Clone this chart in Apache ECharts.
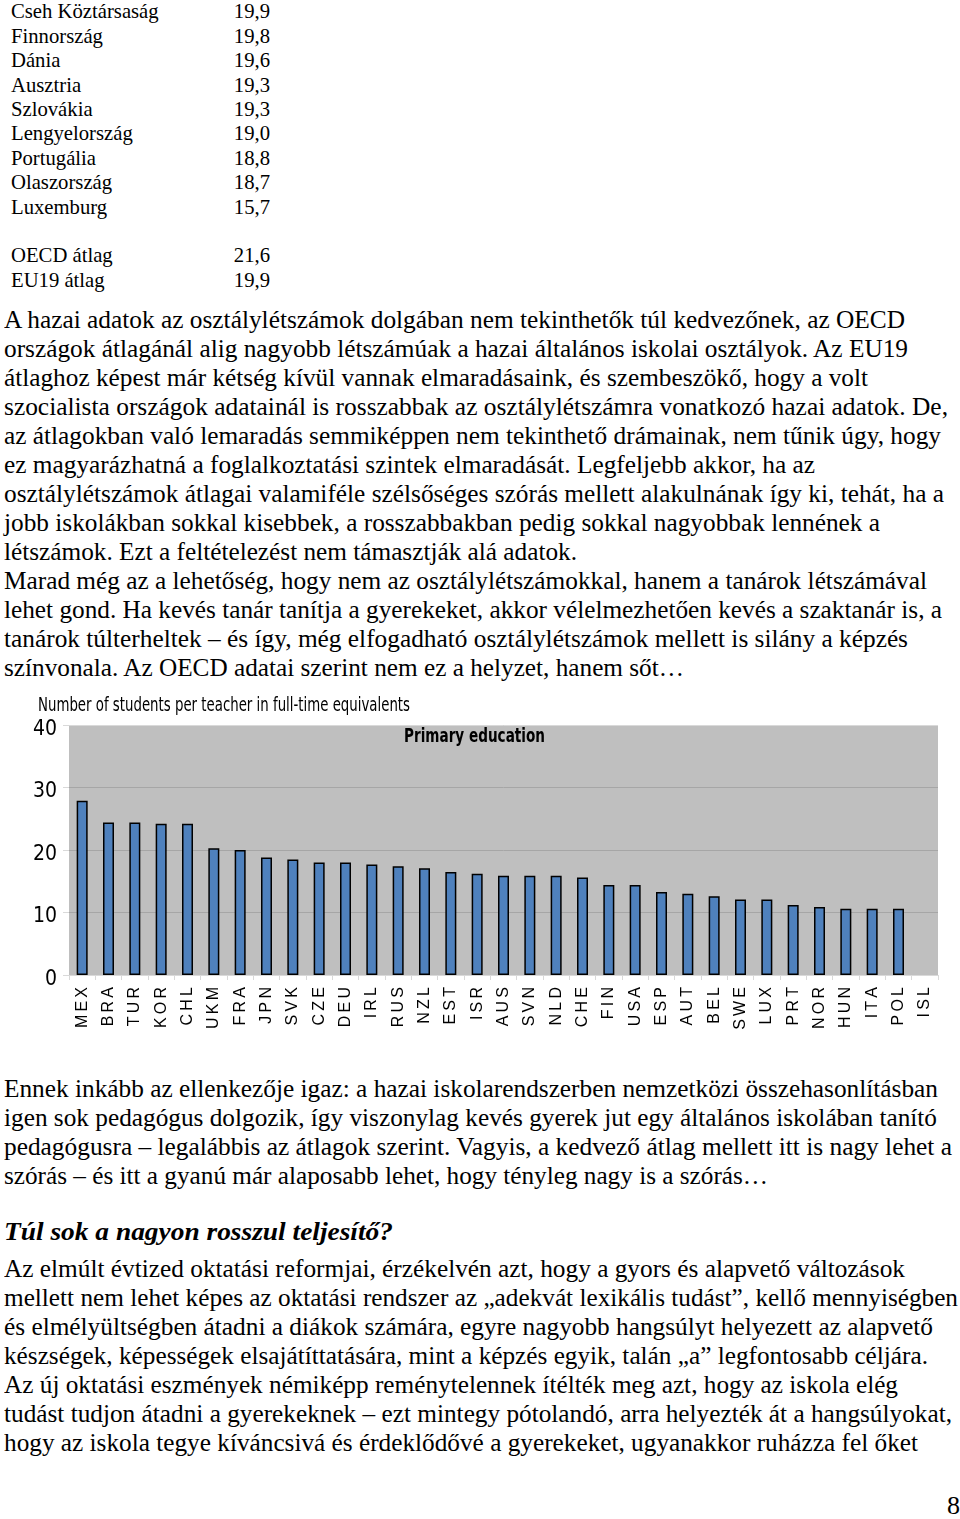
<!DOCTYPE html>
<html>
<head>
<meta charset="utf-8">
<script src="https://cdn.jsdelivr.net/npm/echarts@6/dist/echarts.min.js"></script>
<style>
html,body{margin:0;padding:0;background:#fff;}
#page{position:relative;width:960px;height:1519px;overflow:hidden;background:#fff;}
.ln{position:absolute;white-space:pre;font-family:'Liberation Serif','Times New Roman',serif;color:#000;transform-origin:0 0;line-height:1;}
#chart{position:absolute;left:0;top:690px;width:960px;height:380px;}
</style>
</head>
<body>
<div id="page"><div id="chart"></div></div>
<script>
// ---- table data (top) ----
const tableLabels = ['Cseh Köztársaság','Finnország','Dánia','Ausztria','Szlovákia','Lengyelország','Portugália','Olaszország','Luxemburg','','OECD átlag','EU19 átlag'];
const tableValues = ['19,9','19,8','19,6','19,3','19,3','19,0','18,8','18,7','15,7','','21,6','19,9'];

// ---- chart data ----
const categories = ['MEX','BRA','TUR','KOR','CHL','UKM','FRA','JPN','SVK','CZE','DEU','IRL','RUS','NZL','EST','ISR','AUS','SVN','NLD','CHE','FIN','USA','ESP','AUT','BEL','SWE','LUX','PRT','NOR','HUN','ITA','POL','ISL'];
const studentsPerTeacher = [27.9,24.4,24.4,24.2,24.2,20.3,20.0,18.8,18.5,18.0,18.0,17.7,17.4,17.1,16.5,16.2,15.9,15.9,15.9,15.6,14.4,14.4,13.3,13.0,12.6,12.1,12.1,11.2,10.9,10.6,10.6,10.6,null];
const yTicks = [0,10,20,30,40];
const chartTitle = 'Number of students per teacher in full-time equivalents';
const panelLabel = 'Primary education';

// ---- body text lines: [text, right end x] ----
const para1 = [
 ['A hazai adatok az osztálylétszámok dolgában nem tekinthetők túl kedvezőnek, az OECD',905],
 ['országok átlagánál alig nagyobb létszámúak a hazai általános iskolai osztályok. Az EU19',908],
 ['átlaghoz képest már kétség kívül vannak elmaradásaink, és szembeszökő, hogy a volt',868],
 ['szocialista országok adatainál is rosszabbak az osztálylétszámra vonatkozó hazai adatok. De,',948],
 ['az átlagokban való lemaradás semmiképpen nem tekinthető drámainak, nem tűnik úgy, hogy',941],
 ['ez magyarázhatná a foglalkoztatási szintek elmaradását. Legfeljebb akkor, ha az',815],
 ['osztálylétszámok átlagai valamiféle szélsőséges szórás mellett alakulnának így ki, tehát, ha a',944],
 ['jobb iskolákban sokkal kisebbek, a rosszabbakban pedig sokkal nagyobbak lennének a',880],
 ['létszámok. Ezt a feltételezést nem támasztják alá adatok.',577],
 ['Marad még az a lehetőség, hogy nem az osztálylétszámokkal, hanem a tanárok létszámával',927],
 ['lehet gond. Ha kevés tanár tanítja a gyerekeket, akkor vélelmezhetően kevés a szaktanár is, a',942],
 ['tanárok túlterheltek – és így, még elfogadható osztálylétszámok mellett is silány a képzés',908],
 ['színvonala. Az OECD adatai szerint nem ez a helyzet, hanem sőt…',684]
];
const para2 = [
 ['Ennek inkább az ellenkezője igaz: a hazai iskolarendszerben nemzetközi összehasonlításban',938],
 ['igen sok pedagógus dolgozik, így viszonylag kevés gyerek jut egy általános iskolában tanító',937],
 ['pedagógusra – legalábbis az átlagok szerint. Vagyis, a kedvező átlag mellett itt is nagy lehet a',952],
 ['szórás – és itt a gyanú már alaposabb lehet, hogy tényleg nagy is a szórás…',768]
];
const heading = ['Túl sok a nagyon rosszul teljesítő?',393];
const para3 = [
 ['Az elmúlt évtized oktatási reformjai, érzékelvén azt, hogy a gyors és alapvető változások',905],
 ['mellett nem lehet képes az oktatási rendszer az „adekvát lexikális tudást”, kellő mennyiségben',958],
 ['és elmélyültségben átadni a diákok számára, egyre nagyobb hangsúlyt helyezett az alapvető',933],
 ['készségek, képességek elsajátíttatására, mint a képzés egyik, talán „a” legfontosabb céljára.',928],
 ['Az új oktatási eszmények némiképp reménytelennek ítélték meg azt, hogy az iskola elég',898],
 ['tudást tudjon átadni a gyerekeknek – ezt mintegy pótolandó, arra helyezték át a hangsúlyokat,',952],
 ['hogy az iskola tegye kíváncsivá és érdeklődővé a gyerekeket, ugyanakkor ruházza fel őket',918]
];
const pageNumber = '8';

const page = document.getElementById('page');
function addLine(text, left, baseline, fs, endX, extra) {
  const d = document.createElement('div');
  d.className = 'ln';
  d.textContent = text;
  d.style.fontSize = fs + 'px';
  d.style.left = left + 'px';
  d.style.top = (baseline - 0.8375 * fs) + 'px';
  if (extra) Object.assign(d.style, extra);
  page.appendChild(d);
  if (endX) {
    const w = d.getBoundingClientRect().width;
    d.style.transform = 'scaleX(' + ((endX - left) / w) + ')';
  }
  return d;
}
// table
tableLabels.forEach((t, i) => {
  if (!t) return;
  const b = 18.8 + i * 24.4;
  addLine(t, 11, b, 20.7, null);
  addLine(tableValues[i], 0, b, 20.7, null, {width: '270px', textAlign: 'right'});
});
const BODY = 25;
para1.forEach((l, i) => addLine(l[0], 4, 328 + i * 29.0, BODY, l[1]));
para2.forEach((l, i) => addLine(l[0], 4, 1096.5 + i * 29.2, BODY, l[1]));
addLine(heading[0], 4, 1240, 25, heading[1], {fontWeight: 'bold', fontStyle: 'italic'});
para3.forEach((l, i) => addLine(l[0], 4, 1276.5 + i * 29.1, BODY, l[1]));
addLine(pageNumber, 947, 1515, 26, 960);

// ---- chart ----
const NARROW = "'DejaVu Sans Condensed','Liberation Sans Narrow',sans-serif";
const mctx = document.createElement('canvas').getContext('2d');
function fitScale(text, font, target) {
  mctx.font = font;
  return target / mctx.measureText(text).width;
}
const titleFont = "normal 19px " + NARROW;
const panelFont = "bold 19px " + NARROW;
const chart = echarts.init(document.getElementById('chart'), null, {renderer: 'canvas'});
chart.setOption({
  animation: false,
  graphic: [{
    type: 'text', x: 38, y: 7, scaleX: fitScale(chartTitle, titleFont, 372),
    style: {text: chartTitle, font: titleFont, fill: '#000'}
  }, {
    type: 'text', x: 404, y: 38, scaleX: fitScale(panelLabel, panelFont, 141),
    style: {text: panelLabel, font: panelFont, fill: '#000'}
  }],
  grid: {left: 69, right: 22, top: 35, height: 250, show: true, backgroundColor: '#bfbfbf', borderWidth: 0},
  xAxis: {
    type: 'category', data: categories,
    axisLine: {show: true, lineStyle: {color: '#d9d9d9', width: 1}},
    axisTick: {show: true, length: 5, lineStyle: {color: '#d9d9d9'}},
    axisLabel: {
      interval: 0, rotate: 90, margin: 12, color: '#000', fontSize: 16,
      fontFamily: "'Liberation Sans',Arial,sans-serif",
      formatter: v => v.split('').join('\u2009')
    }
  },
  yAxis: {
    type: 'value', min: yTicks[0], max: yTicks[yTicks.length - 1], interval: 10,
    axisLine: {show: false},
    axisTick: {show: true, length: 6, lineStyle: {color: '#d9d9d9'}},
    axisLabel: {color: '#000', fontSize: 21, fontFamily: NARROW, margin: 12, verticalAlign: 'top', lineHeight: 9},
    splitLine: {show: true, lineStyle: {color: ['#d9d9d9', '#a6a6a6', '#a6a6a6', '#a6a6a6', '#d9d9d9'], width: 1}}
  },
  series: [{
    type: 'bar', data: studentsPerTeacher, barWidth: 11,
    itemStyle: {color: '#4f81bd', borderColor: '#000', borderWidth: 1.5}
  }]
});
</script>
</body>
</html>
